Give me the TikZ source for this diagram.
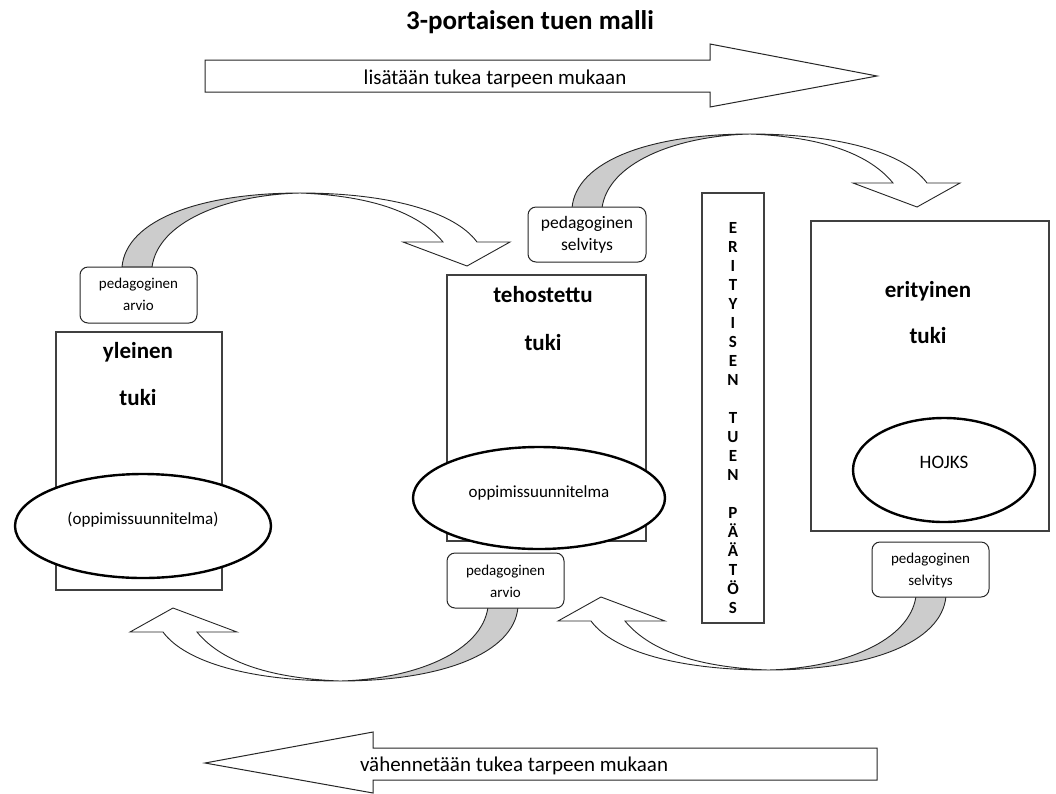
\documentclass[tikz,border=0pt]{standalone}
\usepackage{fontspec}
\setmainfont{Carlito}
\usetikzlibrary{shapes.geometric}
\tikzset{
  frame/.style={draw=black!75, line width=1.2pt, fill=white},
  oval/.style={ellipse, draw=black, line width=2.4pt, fill=white, inner sep=0pt},
  pedbox/.style={draw=black!85, line width=1pt, rounded corners=8pt, fill=white},
  bandgray/.style={draw=black!85, line width=0.9pt, fill=gray!40, line join=round},
  bandwhite/.style={draw=black!85, line width=0.9pt, fill=white, line join=miter},
  bigarrow/.style={draw=black!85, line width=1pt, fill=white, line join=miter},
  lbl/.style={inner sep=0pt, anchor=base, font=\fontsize{15}{18}\selectfont},
  lblbig/.style={inner sep=0pt, anchor=base, font=\fontsize{17.5}{21}\selectfont},
  ovtxt/.style={inner sep=0pt, anchor=base, font=\fontsize{17}{20}\selectfont},
  bold/.style={inner sep=0pt, anchor=base, font=\bfseries\fontsize{23}{27}\selectfont},
  arrtxt/.style={inner sep=0pt, anchor=base, font=\fontsize{21}{25}\selectfont},
}
\newcommand{\bentarrow}{%
  \draw[bandgray] (122,267) .. controls (126,220) and (200,193) .. (300,193)
     .. controls (225,195) and (158,222) .. (152,267) -- cycle;
  \draw[bandwhite] (300,193) .. controls (390,193) and (455,212) .. (477,242)
     -- (510,242) -- (467,266) -- (403,242) -- (443,242)
     .. controls (420,214) and (375,196) .. (300,193) -- cycle;
}
\begin{document}
\begin{tikzpicture}[x=1pt,y=-1pt]
\useasboundingbox (0,0) rectangle (1056,793);
\fill[white] (0,0) rectangle (1056,793);

% title
\node[inner sep=0pt, font=\bfseries\fontsize{27}{32}\selectfont] (title) at (530,22) {3-portaisen tuen malli};

% big arrows
\draw[bigarrow] (205,60) -- (710,60) -- (710,44) -- (877,76) -- (710,107) -- (710,92) -- (205,92) -- cycle;
\node[arrtxt] (lisa) at (495,84) {lisätään tukea tarpeen mukaan};
\draw[bigarrow] (877,748) -- (373,748) -- (373,732) -- (205,763) -- (373,793) -- (373,780) -- (877,780) -- cycle;
\node[arrtxt] (vahe) at (514,771) {vähennetään tukea tarpeen mukaan};

% main boxes
\node[frame, minimum width=166pt, minimum height=258pt, inner sep=0pt] (yl) at (139,461) {};
\node[frame, minimum width=199pt, minimum height=266pt, inner sep=0pt] (te) at (546.5,408) {};
\node[frame, minimum width=238pt, minimum height=310pt, inner sep=0pt] (er) at (930,376) {};
\node[frame, minimum width=62pt, minimum height=430pt, inner sep=0pt] (pa) at (733,408) {};

% ellipses
\node[oval, minimum width=256pt, minimum height=104pt] (e1) at (143,526) {};
\node[oval, minimum width=252pt, minimum height=102pt] (e2) at (539,498) {};
\node[oval, minimum width=182pt, minimum height=104pt] (e3) at (944,470) {};

% curved arrows
\begin{scope}\bentarrow\end{scope}
\begin{scope}[shift={(450,-59)}]\bentarrow\end{scope}
\begin{scope}[rotate around={180:(320,437)}]\bentarrow\end{scope}
\begin{scope}[rotate around={180:(534,431.5)}]\bentarrow\end{scope}

% small rounded boxes
\node[pedbox, minimum width=117pt, minimum height=56pt] (p1) at (138.5,295) {};
\node[pedbox, minimum width=118pt, minimum height=55pt] (p2) at (587,234.5) {};
\node[pedbox, minimum width=117pt, minimum height=55pt] (p3) at (505.5,580.5) {};
\node[pedbox, minimum width=117pt, minimum height=55pt] (p4) at (930.5,569.5) {};

\node[lbl] (p1a) at (138.5,288) {pedagoginen};
\node[lbl] (p1b) at (138.5,310) {arvio};
\node[lblbig] (p2a) at (587,228) {pedagoginen};
\node[lblbig] (p2b) at (587,250) {selvitys};
\node[lbl] (p3a) at (505.5,575) {pedagoginen};
\node[lbl] (p3b) at (505.5,597) {arvio};
\node[lbl] (p4a) at (930.5,563) {pedagoginen};
\node[lbl] (p4b) at (930.5,585) {selvitys};

% bold labels
\node[bold] (yla) at (138,358) {yleinen};
\node[bold] (ylb) at (138,405) {tuki};
\node[bold] (tea) at (543,302) {tehostettu};
\node[bold] (teb) at (543,350) {tuki};
\node[bold] (era) at (928,297) {erityinen};
\node[bold] (erb) at (928,343) {tuki};

% ellipse texts
\node[ovtxt] (e1t) at (143,524) {(oppimissuunnitelma)};
\node[ovtxt] (e2t) at (539,497) {oppimissuunnitelma};
\node[ovtxt, font=\fontsize{19}{22}\selectfont] (e3t) at (944,468) {HOJKS};

% vertical text
\node[inner sep=0pt, align=center, font=\bfseries\fontsize{17}{19}\selectfont] (pat) at (733,418)
  {E\\R\\I\\T\\Y\\I\\S\\E\\N\\\mbox{}\\T\\U\\E\\N\\\mbox{}\\P\\Ä\\Ä\\T\\Ö\\S};
\end{tikzpicture}
\end{document}
